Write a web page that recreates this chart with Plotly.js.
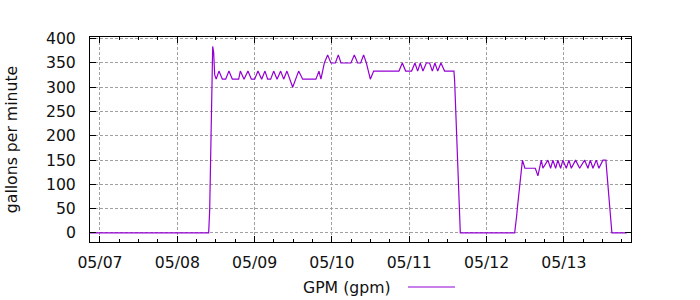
<!DOCTYPE html>
<html>
<head>
<meta charset="utf-8">
<script src="https://cdn.plot.ly/plotly-3.0.1.min.js"></script>
<style>html,body{margin:0;padding:0;background:#fff;}#chart{width:700px;height:300px;}</style>
</head>
<body>
<div id="chart"></div>
<script>
// Time stamps (sample times) of the GPM series
const times = [
  '2014-05-06 20:54','2014-05-08 09:44','2014-05-08 10:03','2014-05-08 10:21','2014-05-08 10:40',
  '2014-05-08 10:51','2014-05-08 10:59','2014-05-08 11:17','2014-05-08 11:36','2014-05-08 12:04',
  '2014-05-08 12:56','2014-05-08 13:59','2014-05-08 15:01','2014-05-08 16:02','2014-05-08 17:05',
  '2014-05-08 19:03','2014-05-08 19:34','2014-05-08 20:43','2014-05-08 21:56','2014-05-08 22:59',
  '2014-05-09 00:01','2014-05-09 01:02','2014-05-09 02:11','2014-05-09 03:13','2014-05-09 04:03',
  '2014-05-09 04:59','2014-05-09 05:55','2014-05-09 06:58','2014-05-09 08:05','2014-05-09 09:01',
  '2014-05-09 10:02','2014-05-09 11:49','2014-05-09 13:40','2014-05-09 14:55','2014-05-09 19:02',
  '2014-05-09 19:58','2014-05-09 20:35','2014-05-09 21:39','2014-05-09 22:40','2014-05-09 23:41',
  '2014-05-10 01:04','2014-05-10 01:59','2014-05-10 02:48','2014-05-10 05:54','2014-05-10 06:57',
  '2014-05-10 07:59','2014-05-10 08:55','2014-05-10 09:50','2014-05-10 10:41','2014-05-10 11:55',
  '2014-05-10 12:57','2014-05-10 20:48','2014-05-10 21:51','2014-05-10 22:53','2014-05-11 00:44',
  '2014-05-11 01:46','2014-05-11 02:36','2014-05-11 03:26','2014-05-11 04:15','2014-05-11 05:18',
  '2014-05-11 06:19','2014-05-11 07:10','2014-05-11 07:58','2014-05-11 08:49','2014-05-11 09:50',
  '2014-05-11 10:59','2014-05-11 13:52','2014-05-11 14:05','2014-05-11 14:18','2014-05-11 14:37',
  '2014-05-11 14:55','2014-05-11 15:14','2014-05-11 15:32','2014-05-11 15:51','2014-05-12 08:43',
  '2014-05-12 09:01','2014-05-12 09:20','2014-05-12 09:38','2014-05-12 09:57','2014-05-12 10:16',
  '2014-05-12 10:34','2014-05-12 10:53','2014-05-12 11:08','2014-05-12 11:54','2014-05-12 15:08',
  '2014-05-12 15:56','2014-05-12 16:59','2014-05-12 17:29','2014-05-12 19:02','2014-05-12 19:53',
  '2014-05-12 20:35','2014-05-12 21:26','2014-05-12 22:08','2014-05-12 22:59','2014-05-12 23:42',
  '2014-05-13 00:45','2014-05-13 01:34','2014-05-13 02:18','2014-05-13 03:38','2014-05-13 04:53',
  '2014-05-13 06:26','2014-05-13 07:28','2014-05-13 08:12','2014-05-13 09:01','2014-05-13 10:04',
  '2014-05-13 10:52','2014-05-13 12:07','2014-05-13 13:02','2014-05-13 13:21','2014-05-13 13:40',
  '2014-05-13 13:58','2014-05-13 14:17','2014-05-13 14:30','2014-05-13 14:54','2014-05-13 19:28'
];

// Gallons per minute at each time stamp
const gpm = [
  0, 0, 47, 144, 240,
  335, 384, 372, 326, 316.7,
  333.3, 316.7, 316.7, 333.3, 316.7,
  316.7, 333.3, 316.7, 333.3, 316.7,
  316.7, 333.3, 316.7, 333.3, 316.7,
  316.7, 333.3, 316.7, 333.3, 316.7,
  333.3, 300, 333.3, 316.7, 316.7,
  333.3, 316.7, 350, 366.7, 350,
  350, 366.7, 350, 350, 366.7,
  350, 350, 366.7, 350, 316.7,
  333.3, 333.3, 350, 333.3, 333.3,
  350, 333.3, 350, 333.3, 350,
  350, 333.3, 350, 333.3, 350,
  333.3, 333.3, 314, 274, 234,
  179, 108, 35, 0, 0,
  13, 35, 56, 78, 99,
  120, 140, 150, 133.3, 133.3,
  117.5, 150, 133.3, 150, 133.3,
  150, 133.3, 150, 133.3, 150,
  133.3, 150, 133.3, 150, 133.3,
  150, 133.3, 150, 133.3, 150,
  133.3, 150, 150, 123, 95,
  68, 54, 30, 0, 0
];

const seriesName = 'GPM (gpm)';
const yTitle = 'gallons per minute';
const xRange = ['2014-05-06 20:54', '2014-05-13 20:50'];
const yRange = [-18.6, 403.5];

const font = {family: 'DejaVu Sans, sans-serif', size: 15.7, color: '#111'};
const gridColor = '#a0a0a0';

const trace = {
  x: times, y: gpm, type: 'scatter', mode: 'lines', name: seriesName,
  line: {color: '#9400d3', width: 1.2}, showlegend: false
};

const layout = {
  width: 700, height: 300,
  margin: {l: 90, r: 69, t: 37, b: 58},
  paper_bgcolor: '#fff', plot_bgcolor: '#fff',
  font: font,
  xaxis: {
    type: 'date', range: xRange,
    tick0: '2014-05-07', dtick: 86400000, tickformat: '%m/%d',
    ticks: 'inside', ticklen: 6, tickcolor: '#000', tickwidth: 1,
    showline: true, linecolor: '#000', linewidth: 1, mirror: 'allticks',
    showgrid: true, gridcolor: gridColor, griddash: '3px,2px', gridwidth: 1,
    zeroline: false, tickfont: font, ticklabelstandoff: 6,
    minor: {dtick: 21600000, ticks: 'inside', ticklen: 3, tickcolor: '#000', showgrid: false}
  },
  yaxis: {
    range: yRange, dtick: 50, tick0: 0,
    ticks: 'inside', ticklen: 6, tickcolor: '#000', tickwidth: 1,
    showline: true, linecolor: '#000', linewidth: 1, mirror: 'allticks',
    showgrid: true, gridcolor: gridColor, griddash: '3px,2px', gridwidth: 1,
    zeroline: false, tickfont: font, ticklabelstandoff: 10,
    title: {text: yTitle, font: font, standoff: 24}
  },
  annotations: [{
    xref: 'paper', yref: 'paper', x: (393 - 90) / 541, y: (242 - 287) / 205,
    xanchor: 'right', yanchor: 'middle', text: seriesName, showarrow: false, font: font
  }],
  shapes: [{
    type: 'line', xref: 'paper', yref: 'paper',
    x0: (408 - 90) / 541, x1: (455 - 90) / 541, y0: (242 - 287) / 205, y1: (242 - 287) / 205,
    line: {color: '#9400d3', width: 1.2}
  }]
};

Plotly.newPlot('chart', [trace], layout, {staticPlot: true, displayModeBar: false});
</script>
</body>
</html>
